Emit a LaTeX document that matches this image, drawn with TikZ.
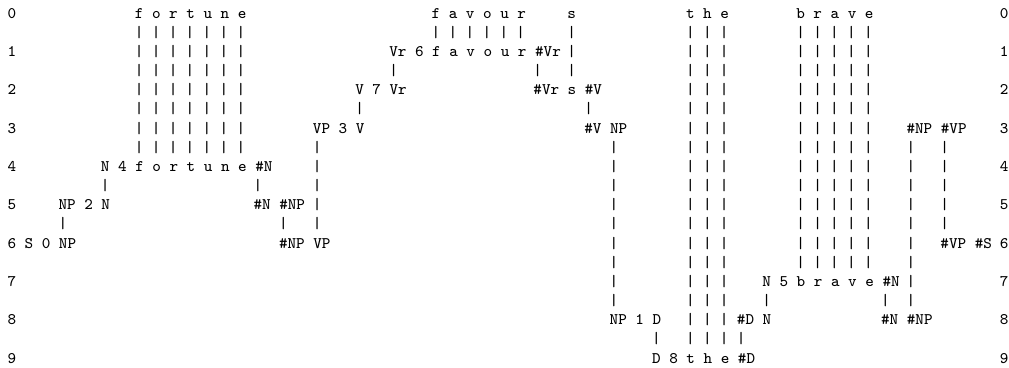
\documentclass[tikz,border=0pt]{standalone}
\usepackage{tikz}
\begin{document}
\begin{tikzpicture}[
x=4.24pt, y=9.585pt,
    lab/.style = {font=\fontsize{8.08}{9.6}\selectfont\ttfamily, inner sep=0pt,
        anchor=base west, xshift=-2.12pt},
]
\path[use as bounding box, fill=white] (-1.356,0.939) rectangle (117.63,-18.206);

% row numbers, both sides
\foreach \r in {0,...,9} {
    \node[lab] (left\r)  at (0,-2*\r)   {\r};
    \node[lab] (right\r) at (117,-2*\r) {\r};
}

% words on top
\node[lab] (fortune) at (15,0) {f o r t u n e};
\node[lab] (favour)  at (50,0) {f a v o u r};
\node[lab] (s)       at (66,0) {s};
\node[lab] (the)     at (80,0) {t h e};
\node[lab] (brave)   at (93,0) {b r a v e};

% tree entries
\node[lab] (Vr6)   at (45,-2)  {Vr 6 f a v o u r \#Vr};
\node[lab] (V7)    at (41,-4)  {V 7 Vr};
\node[lab] (endVr) at (62,-4)  {\#Vr s \#V};
\node[lab] (VP3)   at (36,-6)  {VP 3 V};
\node[lab] (endV)  at (68,-6)  {\#V NP};
\node[lab] (endNP) at (106,-6) {\#NP \#VP};
\node[lab] (N4)    at (11,-8)  {N 4 f o r t u n e \#N};
\node[lab] (NP2)   at (6,-10)  {NP 2 N};
\node[lab] (endN)  at (29,-10) {\#N \#NP};
\node[lab] (S0)    at (2,-12)  {S 0 NP};
\node[lab] (VP)    at (32,-12) {\#NP VP};
\node[lab] (endVP) at (110,-12) {\#VP \#S};
\node[lab] (N5)    at (89,-14) {N 5 b r a v e \#N};
\node[lab] (NP1)   at (71,-16) {NP 1 D};
\node[lab] (endD)  at (86,-16) {\#D N};
\node[lab] (endN5) at (103,-16) {\#N \#NP};
\node[lab] (D8)    at (76,-18) {D 8 t h e \#D};

% vertical bars: column / first line / last line
\foreach \cc/\ta/\tb in {15/1/7,17/1/7,19/1/7,21/1/7,23/1/7,25/1/7,27/1/7,
    50/1/1,52/1/1,54/1/1,56/1/1,58/1/1,60/1/1,
    66/1/3,45/3/3,62/3/3,41/5/5,68/5/5,
    36/7/11,11/9/9,29/9/9,6/11/11,32/11/11,
    71/7/15,80/1/17,82/1/17,84/1/17,76/17/17,86/17/17,
    93/1/13,95/1/13,97/1/13,99/1/13,101/1/13,
    89/15/15,103/15/15,106/7/15,110/7/11}
    \foreach \l in {\ta,...,\tb}
        \node[lab] at (\cc,-\l) {|};

\end{tikzpicture}
\end{document}
